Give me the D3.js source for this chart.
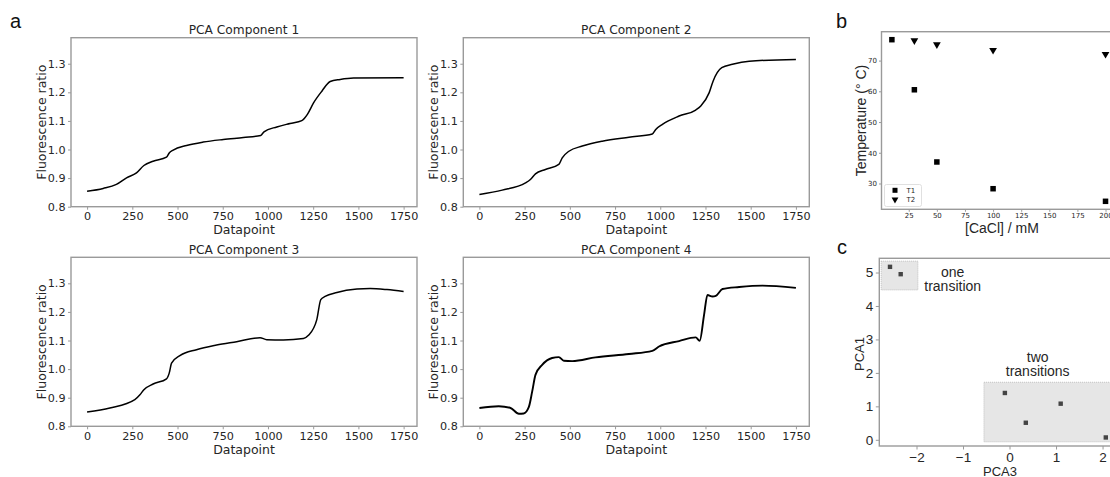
<!DOCTYPE html>
<html><head><meta charset="utf-8">
<script src="https://cdn.jsdelivr.net/npm/d3@7"></script>
<style>body{margin:0;background:#fff;} svg{display:block;background:#fff;}</style>
</head><body>
<svg id="chart" width="1110" height="477"></svg>
<script>
// ---------- data ----------
const xTicksA = [0, 250, 500, 750, 1000, 1250, 1500, 1750];
const yTicksA = [0.8, 0.9, 1.0, 1.1, 1.2, 1.3];
const pc1 = [[0,0.854],[89,0.864],[162,0.878],[218,0.901],[273,0.918],[314,0.944],[365,0.959],[439,0.973],[454,0.988],[476,0.998],[550,1.014],[642,1.026],[753,1.035],[864,1.042],[960,1.049],[978,1.062],[1049,1.079],[1122,1.091],[1187,1.101],[1218,1.123],[1252,1.163],[1298,1.204],[1344,1.238],[1399,1.245],[1473,1.250],[1750,1.251]];
const pc2 = [[0,0.843],[126,0.858],[255,0.883],[282,0.895],[310,0.915],[365,0.930],[439,0.948],[458,0.971],[495,0.994],[569,1.012],[679,1.029],[827,1.043],[956,1.054],[975,1.070],[1012,1.088],[1104,1.117],[1196,1.138],[1224,1.152],[1270,1.198],[1292,1.239],[1340,1.286],[1399,1.298],[1492,1.309],[1750,1.315]];
const pc3 = [[0,0.850],[126,0.864],[264,0.893],[292,0.910],[314,0.928],[365,0.948],[439,0.966],[454,0.986],[467,1.021],[513,1.047],[605,1.068],[716,1.084],[827,1.096],[956,1.110],[993,1.103],[1085,1.102],[1196,1.107],[1224,1.118],[1270,1.173],[1292,1.243],[1316,1.254],[1381,1.268],[1492,1.280],[1565,1.282],[1658,1.278],[1750,1.271]];
const pc4 = [[0,0.864],[107,0.870],[172,0.864],[218,0.844],[245,0.845],[273,0.867],[292,0.922],[310,0.980],[347,1.015],[402,1.039],[439,1.042],[467,1.029],[513,1.028],[642,1.041],[827,1.053],[956,1.064],[993,1.079],[1104,1.098],[1196,1.111],[1218,1.099],[1242,1.189],[1261,1.259],[1289,1.254],[1307,1.256],[1344,1.280],[1436,1.287],[1565,1.292],[1750,1.284]];
const titlesA = ["PCA Component 1", "PCA Component 2", "PCA Component 3", "PCA Component 4"];

const caclT1 = [10, 30, 50, 100, 200];
const tempT1 = [76.8, 60.5, 37.0, 28.3, 24.2];
const caclT2 = [30, 50, 100, 200];
const tempT2 = [76.5, 75.2, 73.4, 72.1];
const xTicksB = [25, 50, 75, 100, 125, 150, 175, 200];
const yTicksB = [30, 40, 50, 60, 70];

const pca3 = [-2.57, -2.34, -0.10, 0.35, 1.10, 2.07];
const pca1 = [5.17, 4.95, 1.40, 0.51, 1.08, 0.07];
const xTicksC = [-2, -1, 0, 1, 2];
const yTicksC = [0, 1, 2, 3, 4, 5];
const groupNames = [["one", "transition"], ["two", "transitions"]];
const groupBoxX = [[-2.76, -1.97], [-0.55, 2.45]];
const groupBoxY = [[4.48, 5.34], [-0.06, 1.72]];

// ---------- drawing ----------
const svg = d3.select("#chart");
const TXT = "#262626", FRAME = "#9a9a9a";
const FONT = "DejaVu Sans, sans-serif";
const SANS = "Liberation Sans, Arial, sans-serif";

function styleAxis(g, size, family) {
  g.select(".domain").remove();
  g.selectAll(".tick line").attr("stroke", FRAME).attr("stroke-width", 1);
  g.selectAll(".tick text").attr("fill", TXT).style("font-family", family || FONT).style("font-size", size + "px");
}

// panel a
const layoutA = [
  {left: 71, top: 37.7}, {left: 463.3, top: 37.7},
  {left: 71, top: 257.3}, {left: 463.3, top: 257.3}
];
const W = 346, H = 169;
const series = [pc1, pc2, pc3, pc4];
series.forEach((d, i) => {
  const L = layoutA[i];
  const x = d3.scaleLinear().domain([-89, 1824]).range([L.left, L.left + W]);
  const y = d3.scaleLinear().domain([0.8, 1.391]).range([L.top + H, L.top]);
  const g = svg.append("g");
  g.append("path").datum(d)
    .attr("d", d3.line().x(p => x(p[0])).y(p => y(p[1])).curve(d3.curveMonotoneX))
    .attr("fill", "none").attr("stroke", "#000")
    .attr("stroke-width", i === 3 ? 1.9 : 1.5);
  g.append("rect").attr("x", L.left).attr("y", L.top).attr("width", W).attr("height", H)
    .attr("fill", "none").attr("stroke", FRAME).attr("stroke-width", 1.4);
  const ax = g.append("g").attr("transform", `translate(0,${L.top + H})`)
    .call(d3.axisBottom(x).tickValues(xTicksA).tickSize(3).tickPadding(2.5).tickFormat(d3.format("d")));
  styleAxis(ax, 11.2);
  const ay = g.append("g").attr("transform", `translate(${L.left},0)`)
    .call(d3.axisLeft(y).tickValues(yTicksA).tickSize(3).tickPadding(2.5).tickFormat(d3.format(".1f")));
  styleAxis(ay, 11.2);
  g.append("text").attr("x", L.left + W / 2).attr("y", L.top - 3.5)
    .attr("text-anchor", "middle").attr("fill", TXT)
    .style("font-family", FONT).style("font-size", "12.2px").text(titlesA[i]);
  g.append("text").attr("x", L.left + W / 2).attr("y", L.top + H + 27.3)
    .attr("text-anchor", "middle").attr("fill", TXT)
    .style("font-family", FONT).style("font-size", "12.5px").text("Datapoint");
  g.append("text").attr("transform", `translate(${L.left - 29.5},${L.top + H / 2}) rotate(-90)`)
    .attr("text-anchor", "middle").attr("dy", "0.35em").attr("fill", TXT)
    .style("font-family", FONT).style("font-size", "12.5px").text("Fluorescence ratio");
});

// panel labels
const panelLabels = [["a", 10, 28], ["b", 836, 28], ["c", 837, 254]];
panelLabels.forEach(([t, px, py]) => {
  svg.append("text").attr("x", px).attr("y", py).attr("fill", "#111")
    .style("font-family", SANS).style("font-size", "20px").text(t);
});

// panel b
{
  const left = 881.5, top = 31.7, bottom = 209.3;
  const x = d3.scaleLinear().domain([0.5, 209.5]).range([881.2, 1116.2]);
  const y = d3.scaleLinear().domain([21.6, 79.4]).range([bottom, top]);
  const g = svg.append("g");
  g.append("rect").attr("x", left).attr("y", top).attr("width", 240).attr("height", bottom - top)
    .attr("fill", "none").attr("stroke", FRAME).attr("stroke-width", 1.4);
  const ax = g.append("g").attr("transform", `translate(0,${bottom})`)
    .call(d3.axisBottom(x).tickValues(xTicksB).tickSize(2.5).tickPadding(1.5));
  styleAxis(ax, 7);
  const ay = g.append("g").attr("transform", `translate(${left},0)`)
    .call(d3.axisLeft(y).tickValues(yTicksB).tickSize(2.5).tickPadding(2));
  styleAxis(ay, 7);
  const sq = 5.5;
  g.selectAll(".t1").data(caclT1).join("rect")
    .attr("x", (d) => x(d) - sq / 2).attr("y", (d, i) => y(tempT1[i]) - sq / 2)
    .attr("width", sq).attr("height", sq).attr("fill", "#000");
  const tri = d3.symbol().type(d3.symbolTriangle).size(26);
  g.selectAll(".t2").data(caclT2).join("path")
    .attr("d", tri)
    .attr("transform", (d, i) => `translate(${x(d)},${y(tempT2[i])}) rotate(180)`)
    .attr("fill", "#000");
  // legend
  g.append("rect").attr("x", 884.5).attr("y", 184.5).attr("width", 37).attr("height", 22)
    .attr("rx", 2).attr("fill", "#fff").attr("fill-opacity", 0.8).attr("stroke", "#d8d8d8").attr("stroke-width", 0.8);
  g.append("rect").attr("x", 895 - 2.5).attr("y", 190.3 - 2.5).attr("width", 5).attr("height", 5).attr("fill", "#000");
  g.append("path").attr("d", d3.symbol().type(d3.symbolTriangle).size(20))
    .attr("transform", "translate(895,199.5) rotate(180)").attr("fill", "#000");
  [["T1", 192.8], ["T2", 201.8]].forEach(([t, yy]) => {
    g.append("text").attr("x", 906.5).attr("y", yy).attr("fill", TXT)
      .style("font-family", FONT).style("font-size", "7px").text(t);
  });
  g.append("text").attr("x", 1002).attr("y", 233)
    .attr("text-anchor", "middle").attr("fill", TXT)
    .style("font-family", SANS).style("font-size", "14px").text("[CaCl] / mM");
  g.append("text").attr("transform", `translate(860.7,${(top + bottom) / 2}) rotate(-90)`)
    .attr("text-anchor", "middle").attr("dy", "0.35em").attr("fill", TXT)
    .style("font-family", SANS).style("font-size", "14px").text("Temperature (° C)");
}

// panel c
{
  const left = 879.3, top = 258.3, bottom = 446;
  const x = d3.scaleLinear().domain([-2.80, 2.30]).range([left, 1116.5]);
  const y = d3.scaleLinear().domain([-0.185, 5.425]).range([bottom, top]);
  const g = svg.append("g");
  groupBoxX.forEach((bx, i) => {
    g.append("rect").attr("x", x(bx[0])).attr("y", y(groupBoxY[i][1]))
      .attr("width", x(bx[1]) - x(bx[0])).attr("height", y(groupBoxY[i][0]) - y(groupBoxY[i][1]))
      .attr("fill", "#e6e6e6").attr("stroke", "#b5b5b5").attr("stroke-width", 0.8)
      .attr("stroke-dasharray", "1,1");
  });
  const sq = 4.4;
  g.selectAll(".pt").data(pca3).join("rect")
    .attr("x", d => x(d) - sq / 2).attr("y", (d, i) => y(pca1[i]) - sq / 2)
    .attr("width", sq).attr("height", sq).attr("fill", "#444");
  g.append("rect").attr("x", left).attr("y", top).attr("width", 240).attr("height", bottom - top)
    .attr("fill", "none").attr("stroke", FRAME).attr("stroke-width", 1.4);
  const fmt = d => (d < 0 ? "\u2212" + Math.abs(d) : String(d));
  const ax = g.append("g").attr("transform", `translate(0,${bottom})`)
    .call(d3.axisBottom(x).tickValues(xTicksC).tickSize(3.5).tickPadding(3).tickFormat(fmt));
  styleAxis(ax, 13.5, SANS);
  const ay = g.append("g").attr("transform", `translate(${left},0)`)
    .call(d3.axisLeft(y).tickValues(yTicksC).tickSize(3.5).tickPadding(2.5).tickFormat(d3.format("d")));
  styleAxis(ay, 13.5, SANS);
  const labelPos = [[952.7, 276.7], [1037.7, 361.7]];
  groupNames.forEach((lines, i) => {
    lines.forEach((t, j) => {
      g.append("text").attr("x", labelPos[i][0]).attr("y", labelPos[i][1] + j * 14.3)
        .attr("text-anchor", "middle").attr("fill", TXT)
        .style("font-family", SANS).style("font-size", "14px").text(t);
    });
  });
  g.append("text").attr("x", 1000).attr("y", 475.5)
    .attr("text-anchor", "middle").attr("fill", TXT)
    .style("font-family", SANS).style("font-size", "13px").text("PCA3");
  g.append("text").attr("transform", `translate(859.3,354) rotate(-90)`)
    .attr("text-anchor", "middle").attr("dy", "0.35em").attr("fill", TXT)
    .style("font-family", SANS).style("font-size", "13px").text("PCA1");
}
</script>
</body></html>
